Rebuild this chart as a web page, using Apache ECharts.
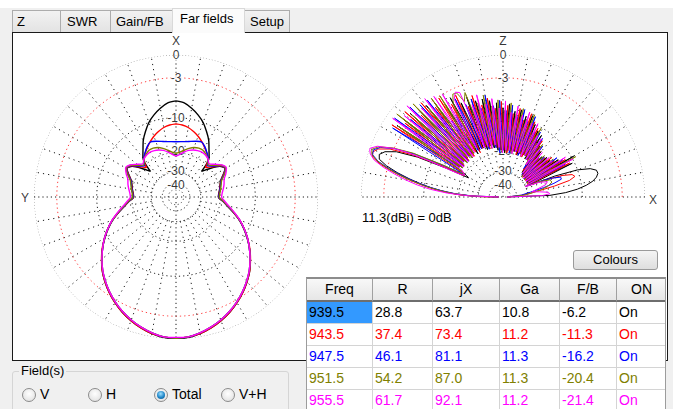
<!DOCTYPE html>
<html><head><meta charset="utf-8">
<script src="https://cdn.jsdelivr.net/npm/echarts@6/dist/echarts.min.js"></script>
<style>
html,body{margin:0;padding:0;width:673px;height:409px;overflow:hidden;background:#fff;font-family:"Liberation Sans",Arial,sans-serif;color:#000;}
#win{position:absolute;left:0;top:8px;width:673px;height:401px;background:#f0f0f0;}
.tab{position:absolute;top:10px;height:22px;box-sizing:border-box;border:1px solid #acacac;border-bottom:none;background:linear-gradient(#f2f2f2,#e3e3e3);font-size:13px;line-height:21px;white-space:nowrap;}
.tab.active{top:8px;height:25px;background:#fbfbfb;border-color:#d9d9d9;line-height:20px;z-index:3;}
#panel{position:absolute;left:12px;top:32px;width:656px;height:329px;box-sizing:border-box;border:1px solid #1a1a1a;background:#fff;z-index:2;}
#chart{position:absolute;left:0;top:0;width:673px;height:409px;z-index:4;}
#btn{position:absolute;left:573px;top:250px;width:85px;height:20px;box-sizing:border-box;border:1px solid #9a9a9a;border-radius:3px;background:linear-gradient(#f4f4f4,#dedede);font-size:13px;line-height:18px;text-align:center;z-index:5;}
#tbl{position:absolute;left:306px;top:277px;width:360px;height:140px;box-sizing:border-box;border:1px solid #9c9c9c;border-top:2px solid #8c8c8c;background:#fff;z-index:5;overflow:hidden;}
.cell{position:absolute;box-sizing:border-box;font-size:14px;white-space:nowrap;overflow:hidden;}
.hd{background:linear-gradient(#f8f8f8,#e6e6e6);border-right:1px solid #a0a0a0;border-bottom:2px solid #6e6e6e;text-align:center;}
.dc{border-right:1px solid #d4d4d4;border-bottom:1px solid #d4d4d4;padding-left:2px;}
#grp{position:absolute;left:12px;top:371px;width:277px;height:60px;box-sizing:border-box;border:1px solid #d5d5d5;border-radius:3px;z-index:5;}
#grplab{position:absolute;left:19px;top:363px;font-size:13px;background:#f0f0f0;padding:0 2px;z-index:6;line-height:16px;}
.rad{position:absolute;top:388px;width:14px;height:14px;box-sizing:border-box;border:1px solid #8b8b8b;border-radius:50%;background:radial-gradient(circle at 50% 40%,#ffffff,#dcdcdc);z-index:6;}
.rad.on::after{content:"";position:absolute;left:2px;top:2px;width:8px;height:8px;border-radius:50%;background:radial-gradient(circle at 45% 35%,#9fe0ff,#1f86c8 55%,#0b4f86);}
.rlab{position:absolute;top:386px;font-size:14px;line-height:17px;z-index:6;}
</style>
</head>
<body>
<div id="win"></div>
<div class="tab" style="left:12px;width:49px;padding-left:4px;">Z</div>
<div class="tab" style="left:60px;width:51px;padding-left:6px;">SWR</div>
<div class="tab" style="left:110px;width:63px;padding-left:5px;">Gain/FB</div>
<div class="tab active" style="left:172px;width:73px;padding-left:7px;">Far fields</div>
<div class="tab" style="left:244px;width:46px;padding-left:5px;">Setup</div>
<div id="panel"></div>
<div id="chart"></div>
<div id="btn">Colours</div>
<div id="tbl"></div>
<div id="grp"></div>
<div id="grplab">Field(s)</div>
<div id="radios"></div>
<script>
// ---------------- data ----------------
const RING_DB = [0, -3, -10, -20, -30, -40, -50];
const RING_LABELS = ['0', '-3', '-10', '-20', '-30', '-40'];
const MAX_GAIN_DBI = 11.3;

// Azimuth (left plot): angle from +X (top), counter-clockwise toward Y; symmetric pattern
const AZ_THETA = [0,5,10,15,20,25,30,35,40,45,50,55,60,65,70,75,80,85,90,95,100,105,110,115,120,125,130,135,140,145,150,155,160,165,170,175,180];
const AZ_BLACK = [-6.7,-7.0,-7.8,-8.8,-10.0,-11.6,-13.3,-15.5,-17.4,-23.5,-20.0,-16.8,-15.7,-17.3,-18.8,-19.5,-20.0,-20.5,-20.8,-19.0,-17.2,-15.0,-12.8,-11.0,-9.4,-7.9,-6.6,-5.3,-4.3,-3.4,-2.6,-1.9,-1.3,-0.8,-0.4,-0.1,0.0];
const AZ_RED = [-11.4,-11.6,-12.0,-12.7,-13.5,-14.5,-15.6,-16.7,-17.8,-21.0,-19.0,-16.5,-15.6,-17.2,-18.7,-19.4,-19.9,-20.4,-20.7,-18.9,-17.1,-14.9,-12.7,-10.9,-9.3,-7.8,-6.5,-5.3,-4.3,-3.4,-2.6,-1.9,-1.3,-0.8,-0.4,-0.2,-0.1];
const AZ_BLUE = [-16.2,-16.1,-15.9,-15.5,-15.0,-14.6,-15.4,-16.6,-17.8,-20.0,-18.5,-16.3,-15.6,-17.0,-18.6,-19.3,-19.8,-20.3,-20.6,-18.8,-17.0,-14.9,-12.7,-10.9,-9.3,-7.9,-6.6,-5.4,-4.4,-3.5,-2.7,-2.0,-1.4,-0.9,-0.5,-0.2,-0.1];
const AZ_OLIVE = [-20.2,-19.7,-18.8,-17.8,-17.0,-16.6,-16.6,-17.2,-18.0,-19.6,-18.2,-16.2,-15.5,-16.8,-18.4,-19.1,-19.6,-20.1,-20.4,-18.7,-16.9,-14.8,-12.7,-10.9,-9.3,-7.9,-6.6,-5.4,-4.4,-3.5,-2.7,-2.0,-1.4,-0.9,-0.5,-0.2,-0.1];
const AZ_MAGENTA = [-21.4,-20.6,-19.5,-18.5,-17.9,-17.5,-17.3,-17.5,-18.0,-19.0,-17.6,-16.0,-15.3,-16.3,-17.5,-18.0,-18.6,-19.2,-19.5,-18.3,-16.6,-14.6,-12.6,-10.9,-9.3,-7.9,-6.6,-5.4,-4.4,-3.5,-2.7,-2.0,-1.4,-0.9,-0.5,-0.2,-0.2];

// Elevation (right plot): [angle from +X counter-clockwise, dB]
const EL_BLACK = [[0,-60],[2,-19],[4,-14],[6,-11],[8,-9],[10,-7.6],[12,-6.8],[14,-6.4],[16,-6.5],[18,-7.5],[20,-10],[22,-16],[23,-24],
[24,-27],[26,-10.5],[28,-27],[30,-9.5],[32,-28],[34,-13],[36,-27],[38,-15],[40,-28],[42,-15],[44,-27],[46,-16],[48,-28],[50,-15],[52,-26],[54,-14],[56,-20],[58,-11.5],[60,-20],[62,-11],[64,-19],[66,-10],[68,-19],[70,-8.5],[72,-20],[74,-9],[76,-19],[78,-8],[80,-19],[82,-8.5],[84,-19],[86,-7.2],[88,-20],[90,-8],[92,-19],[94,-7],[96,-19],[98,-6.5],[100,-18],[102,-6],[104,-17],[106,-6],[108,-18],[110,-5],[112,-17],[114,-5.5],[116,-17],[118,-4],[120,-18],[122,-4.5],[124,-17],[126,-3.5],[128,-18],[130,-3],[132,-17],[134,-2.5],[136,-18],[138,-2.2],[140,-17],[142,-2],[144,-18],[146,-1.8],[148,-19],
[151,-22],[153,-14],[155,-7],[157,-3.5],[159,-2],[161,-1.4],[163,-1.6],[165,-2.8],[167,-4.6],[169,-6.8],[171,-9.2],[173,-12],[175,-15.5],[177,-20],[179,-30],[180,-60]];
const EL_RED = [[0,-60],[5,-35],[8,-28],[10,-23],[12,-17],[14,-12.5],[16,-11],[18,-11.5],[20,-14],[22,-20],[24,-28],
[25,-27],[27,-11],[29,-28],[31,-11.5],[33,-27],[35,-14],[37,-28],[39,-14],[41,-27],[43,-15.5],[45,-28],[47,-17],[49,-27],[51,-15],[53,-25],[55,-12.5],[57,-20],[59,-13],[61,-19],[63,-10.5],[65,-20],[67,-9.5],[69,-19],[71,-8.2],[73,-20],[75,-10],[77,-19],[79,-7.8],[81,-19],[83,-9],[85,-20],[87,-7.5],[89,-19],[91,-6.8],[93,-19],[95,-8],[97,-18],[99,-6],[101,-17],[103,-7],[105,-18],[107,-5],[109,-17],[111,-6.5],[113,-17],[115,-4],[117,-18],[119,-5],[121,-17],[123,-3.2],[125,-18],[127,-4],[129,-17],[131,-2.2],[133,-18],[135,-3.5],[137,-17],[139,-1.5],[141,-18],[143,-2.5],[145,-17],[147,-1.2],[149,-19],
[151,-20],[153,-12],[155,-6],[157,-2.5],[159,-1],[161,-0.5],[163,-0.7],[165,-1.9],[167,-3.8],[169,-6],[171,-8.6],[173,-11.5],[175,-15],[177,-20],[179,-30],[180,-60]];
const EL_BLUE = [[0,-60],[6,-35],[10,-28],[13,-21],[15,-17],[17,-14.5],[19,-14.5],[21,-17],[23,-22],[25,-30],
[26,-28],[28,-12],[30,-27],[32,-12],[34,-28],[36,-13],[38,-27],[40,-16],[42,-28],[44,-15.5],[46,-27],[48,-16.5],[50,-27],[52,-13.5],[54,-24],[56,-12],[58,-20],[60,-11],[62,-19],[64,-11.5],[66,-19],[68,-8.5],[70,-20],[72,-10],[74,-19],[76,-7.8],[78,-19],[80,-9.5],[82,-20],[84,-7.4],[86,-19],[88,-8.5],[90,-19],[92,-6.6],[94,-20],[96,-7.5],[98,-18],[100,-5.5],[102,-17],[104,-7.5],[106,-18],[108,-5.5],[110,-17],[112,-6],[114,-17],[116,-4.5],[118,-17],[120,-7],[122,-14],[124,-7.5],[126,-17],[128,-2.5],[130,-17],[132,-2.3],[134,-18],[136,-1.6],[138,-17],[140,-2.8],[142,-18],[144,-1],[146,-17],[148,-1.5],
[150,-20],[152,-13],[154,-6.5],[156,-3],[158,-1.2],[160,-0.5],[162,-0.6],[164,-1.5],[166,-3.2],[168,-5.3],[170,-7.8],[172,-10.5],[174,-14],[176,-18.5],[178,-26],[180,-60]];
const EL_OLIVE = [[0,-60],[5,-32],[8,-27],[11,-22],[14,-19],[17,-17.5],[20,-18],[23,-22],[25,-30],
[27,-28],[29,-9.2],[31,-28],[33,-13],[35,-27],[37,-14],[39,-28],[41,-15.5],[43,-27],[45,-15.2],[47,-28],[49,-16],[51,-26],[53,-13.2],[55,-22],[57,-13.5],[59,-20],[61,-10.2],[63,-19],[65,-12],[67,-20],[69,-8.2],[71,-19],[73,-9.5],[75,-19],[77,-7.7],[79,-20],[81,-9],[83,-19],[85,-7],[87,-19],[89,-8.5],[91,-20],[93,-6.5],[95,-18],[97,-7.5],[99,-17],[101,-5.4],[103,-18],[105,-6.5],[107,-17],[110,-4.2],[112,-5.5],[114,-3.8],[116,-3.7],[118,-5],[120,-16],[122,-3],[124,-17],[126,-2.6],[128,-18],[130,-3.5],[132,-17],[134,-1.6],[136,-18],[138,-2.5],[140,-17],[142,-0.9],[144,-18],[146,-2],[148,-19],
[150,-20],[152,-12.5],[154,-6],[156,-2.8],[158,-1],[160,-0.3],[162,-0.5],[164,-1.4],[166,-3],[168,-5],[170,-7.4],[172,-10],[174,-13.5],[176,-18],[178,-25],[180,-60]];
const EL_MAGENTA = [[0,-60],[2,-22],[4,-19],[6,-19.5],[8,-23],[10,-27],[13,-24],[16,-20],[19,-19],[22,-22],[25,-30],
[26.5,-28],[28.5,-10],[30.5,-27],[32.5,-11.2],[34.5,-28],[36.5,-14.5],[38.5,-27],[40.5,-14.6],[42.5,-28],[44.5,-17],[46.5,-27],[48.5,-15],[50.5,-26],[52.5,-14.5],[54.5,-22],[56.5,-12.2],[58.5,-20],[60.5,-12],[62.5,-19],[64.5,-9.6],[66.5,-20],[68.5,-10],[70.5,-19],[72.5,-8],[74.5,-19],[76.5,-9],[78.5,-20],[80.5,-7.4],[82.5,-19],[84.5,-8.8],[86.5,-19],[88.5,-6.7],[90.5,-20],[92.5,-8],[94.5,-18],[96.5,-6.2],[98.5,-17],[100.5,-7],[102.5,-18],[104.5,-5.1],[106.5,-17],[108.5,-6.5],[110.5,-17],[112.5,-3.9],[114.5,-3.6],[116.5,-4.5],[118.5,-16],[120.5,-3],[122.5,-17],[124.5,-2.6],[126.5,-18],[128.5,-2.1],[130.5,-17],[132.5,-2.8],[134.5,-18],[136.5,-1.2],[138.5,-17],[140.5,-1.8],[142.5,-18],[144.5,-0.8],[146.5,-18],
[150,-20],[152,-19],[153,-15],[154,-9],[155,-5],[156,-3],[158,-0.8],[160,0],[162,-0.3],[164,-1],[166,-2.4],[168,-4.2],[170,-6.2],[172,-8.5],[174,-11.5],[176,-16],[178,-24],[180,-60]];

// Table
const HEADERS = ['Freq', 'R', 'jX', 'Ga', 'F/B', 'ON'];
const FREQ = [939.5, 943.5, 947.5, 951.5, 955.5];
const R_OHM = [28.8, 37.4, 46.1, 54.2, 61.7];
const JX = [63.7, 73.4, 81.1, 87.0, 92.1];
const GA = [10.8, 11.2, 11.3, 11.3, 11.2];
const FB = [-6.2, -11.3, -16.2, -20.4, -21.4];
const ON = ['On', 'On', 'On', 'On', 'On'];
const FIELDS = ['V', 'H', 'Total', 'V+H'];
const FIELD_SELECTED = 'Total';

// ---------------- styles ----------------
const COLORS = ['#000000', '#ff0000', '#0000ff', '#808000', '#ff00ff'];
const RING_COLORS = ['#8c8c8c', '#ff4040', '#202020', '#303030', '#202020', '#303030', '#404040'];
const RING_DASH = [[1, 2], [1.3, 3], [1.2, 3], [1.2, 3], [1.2, 2.5], [1.2, 2.5], [1.2, 2.5]];
const LABEL_NUDGE = [0, 0, 0, -2, -1, 2]; // vertical pixel nudges so ring labels don't collide
const FONT = '"Liberation Sans", Arial, sans-serif';

// ---------------- table ----------------
(function buildTable() {
  const tbl = document.getElementById('tbl');
  const colX = [0, 66, 126, 193, 253, 310, 360];
  const rowH = 22, hdH = 23;
  let html = '';
  HEADERS.forEach((h, c) => {
    html += `<div class="cell hd" style="left:${colX[c]}px;top:0;width:${colX[c+1]-colX[c]}px;height:${hdH}px;line-height:${hdH-2}px;">${h}</div>`;
  });
  const cols = [FREQ.map(v => v.toFixed(1)), R_OHM.map(v => v.toFixed(1)), JX.map(v => v.toFixed(1)), GA.map(v => v.toFixed(1)), FB.map(v => v.toFixed(1)), ON];
  for (let r = 0; r < FREQ.length; r++) {
    for (let c = 0; c < cols.length; c++) {
      const sel = (r === 0 && c === 0);
      const top = hdH + r * rowH;
      html += `<div class="cell dc" style="left:${colX[c]}px;top:${top}px;width:${colX[c+1]-colX[c]}px;height:${rowH}px;line-height:${rowH-1}px;color:${COLORS[r]};${sel ? 'background:#3399ff;color:#000;' : ''}">${cols[c][r]}</div>`;
    }
  }
  tbl.innerHTML = html;
  const rx = [22, 88, 154, 221];
  let rh = '';
  FIELDS.forEach((f, i) => {
    rh += `<div class="rad${f === FIELD_SELECTED ? ' on' : ''}" style="left:${rx[i]}px"></div><div class="rlab" style="left:${rx[i]+18}px">${f}</div>`;
  });
  document.getElementById('radios').innerHTML = rh;
})();

// ---------------- chart ----------------
const arrl = db => Math.pow(0.89, -db / 2); // ARRL log-periodic radial scale

function ringSeries(pi, i, a0, a1) {
  const data = [];
  for (let a = a0; a <= a1; a += 2) data.push([arrl(RING_DB[i]), a]);
  return { type: 'line', coordinateSystem: 'polar', polarIndex: pi, data, symbol: 'none', silent: true, z: 1,
    lineStyle: { color: RING_COLORS[i], width: 1, type: RING_DASH[i], cap: 'butt' } };
}
function segSeries(pi, pts, color, dash) {
  return { type: 'line', coordinateSystem: 'polar', polarIndex: pi, data: pts, symbol: 'none', silent: true, z: 1,
    lineStyle: { color, width: 1, type: dash, cap: 'butt' } };
}
function azData(vals) {
  const d = AZ_THETA.map((t, i) => [arrl(vals[i]), t]);
  for (let i = AZ_THETA.length - 2; i >= 0; i--) d.push([arrl(vals[i]), 360 - AZ_THETA[i]]);
  return d;
}
function elData(pairs) { return pairs.map(p => [arrl(p[1]), p[0]]); }

const series = [];
// left grid
RING_DB.forEach((db, i) => series.push(ringSeries(0, i, 0, 360)));
for (let a = 10; a < 360; a += 10) {
  if (a % 90 === 0) continue;
  series.push(segSeries(0, [[arrl(-30), a], [1, a]], '#1a1a1a', [1.2, 4]));
}
series.push(segSeries(0, [[1, 0], [1, 180]], '#1a1a1a', [1.2, 3]));
series.push(segSeries(0, [[1, 90], [1, 270]], '#1a1a1a', [1.2, 3]));
// right grid
RING_DB.forEach((db, i) => series.push(ringSeries(1, i, 0, 180)));
for (let a = 10; a < 180; a += 10) {
  if (a === 90) continue;
  series.push(segSeries(1, [[arrl(-30), a], [1, a]], '#1a1a1a', [1.2, 4]));
}
series.push(segSeries(1, [[1, 0], [1, 180]], '#1a1a1a', [1.2, 3]));
series.push(segSeries(1, [[0, 90], [1, 90]], '#1a1a1a', [1.2, 3]));

// labels
function labelSeries(pi, axisAng, nameTop, nameSide) {
  const data = RING_LABELS.map((t, i) => ({ value: [arrl(RING_DB[i]), axisAng], label: { formatter: t, offset: [0, LABEL_NUDGE[i]] } }));
  data.push({ value: [1, axisAng], label: { formatter: nameTop, offset: [0, -14], backgroundColor: 'transparent' } });
  data.push(nameSide);
  return { type: 'scatter', coordinateSystem: 'polar', polarIndex: pi, symbolSize: 0, silent: true, z: 2, data,
    label: { show: true, position: 'inside', color: '#000', fontSize: 12, lineHeight: 10, fontFamily: FONT, backgroundColor: '#fff', padding: 0 } };
}
series.push(labelSeries(0, 0, 'X', { value: [1, 90], label: { formatter: 'Y', offset: [-9, 1], backgroundColor: 'transparent' } }));
series.push(labelSeries(1, 90, 'Z', { value: [1, 0], label: { formatter: 'X', offset: [8, 3], backgroundColor: 'transparent' } }));

// patterns
const AZ = [AZ_BLACK, AZ_RED, AZ_BLUE, AZ_OLIVE, AZ_MAGENTA];
const EL = [EL_BLACK, EL_RED, EL_BLUE, EL_OLIVE, EL_MAGENTA];
const NAMES = FREQ.map(f => f.toFixed(1));
AZ.forEach((v, i) => series.push({ name: NAMES[i], type: 'line', coordinateSystem: 'polar', polarIndex: 0, data: azData(v),
  symbol: 'none', smooth: 0.25, z: 5 + i, lineStyle: { color: COLORS[i], width: 1.4 } }));
EL.forEach((v, i) => series.push({ name: NAMES[i], type: 'line', coordinateSystem: 'polar', polarIndex: 1, data: elData(v),
  symbol: 'none', smooth: false, z: 5 + i, lineStyle: { color: COLORS[i], width: 1 } }));

const hiddenAngle = (pi, start) => ({ polarIndex: pi, type: 'value', min: 0, max: 360, startAngle: start, clockwise: false,
  axisLine: { show: false }, axisTick: { show: false }, axisLabel: { show: false }, splitLine: { show: false } });
const hiddenRadius = pi => ({ polarIndex: pi, type: 'value', min: 0, max: 1,
  axisLine: { show: false }, axisTick: { show: false }, axisLabel: { show: false }, splitLine: { show: false } });

const chart = echarts.init(document.getElementById('chart'), null, { renderer: 'svg' });
chart.setOption({
  animation: false,
  backgroundColor: 'transparent',
  polar: [{ center: [176, 197], radius: 142 }, { center: [503, 197], radius: 142 }],
  angleAxis: [hiddenAngle(0, 90), hiddenAngle(1, 0)],
  radiusAxis: [hiddenRadius(0), hiddenRadius(1)],
  graphic: [{ type: 'text', left: 362, top: 211, silent: true,
    style: { text: MAX_GAIN_DBI.toFixed(1) + '(dBi) = 0dB', fontSize: 13, fontFamily: FONT, fill: '#000' } }],
  series
});
</script>
</body></html>
